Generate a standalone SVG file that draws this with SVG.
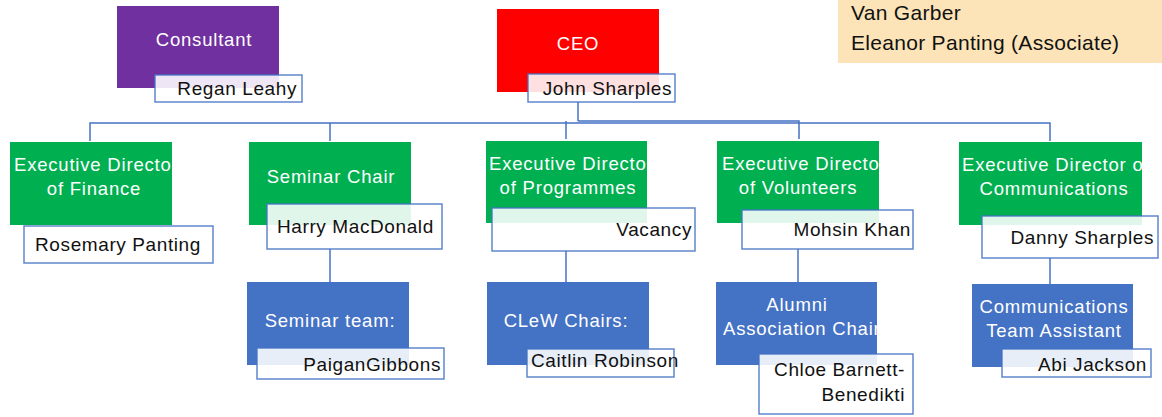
<svg xmlns="http://www.w3.org/2000/svg" width="1162" height="417" viewBox="0 0 1162 417">
<style>
.t{font-family:"Liberation Sans",Arial,sans-serif;font-size:18.5px;letter-spacing:0.8px;fill:#fff}
.n{font-family:"Liberation Sans",Arial,sans-serif;font-size:19px;letter-spacing:0.6px;fill:#111}
.v{font-family:"Liberation Sans",Arial,sans-serif;font-size:21px;letter-spacing:0.3px;fill:#111}
.nb{fill:#fff;fill-opacity:0.88;stroke:#4472C4;stroke-opacity:0.85;stroke-width:1.5}
.g{fill:#00B050}
.b{fill:#4472C4}
.c{fill:none;stroke:#4472C4;stroke-width:1.5}
</style>
<defs>
<clipPath id="cFin"><rect x="10" y="142" width="162" height="83"/></clipPath>
<clipPath id="cProg"><rect x="486" y="141" width="161" height="82"/></clipPath>
<clipPath id="cVol"><rect x="717" y="141" width="162" height="82"/></clipPath>
<clipPath id="cCom"><rect x="959" y="142" width="183" height="83"/></clipPath>
<clipPath id="cAlu"><rect x="716" y="282" width="161" height="83"/></clipPath>
<clipPath id="cCta"><rect x="972" y="284" width="161" height="83"/></clipPath>
</defs>
<g id="connectors">
<path class="c" d="M578 102V121"/>
<path class="c" d="M90 141V123H1050V141"/>
<path class="c" d="M578 121H799V139" stroke-width="2.2"/>
<path class="c" d="M330 123V141"/>
<path class="c" d="M566 121V139"/>
<path class="c" d="M330 249V282"/>
<path class="c" d="M566 251V282"/>
<path class="c" d="M798 249V282"/>
<path class="c" d="M1050 258V284"/>
</g>
<g id="associates">
<rect x="838" y="0" width="324" height="63" fill="#FCE4B8"/>
<text class="v" x="851" y="20">Van Garber</text>
<text class="v" x="851" y="50">Eleanor Panting (Associate)</text>
</g>
<g id="consultant">
<rect x="117" y="6" width="162" height="82" fill="#7030A0"/>
<text class="t" x="204" y="46" text-anchor="middle">Consultant</text>
<rect class="nb" x="155" y="75" width="147" height="27"/>
<text class="n" x="297" y="95" text-anchor="end">Regan Leahy</text>
</g>
<g id="ceo">
<rect x="497" y="9" width="162" height="83" fill="#FF0000"/>
<text class="t" x="578" y="50" text-anchor="middle">CEO</text>
<rect class="nb" x="528" y="74" width="147" height="28"/>
<text class="n" x="672" y="95" text-anchor="end">John Sharples</text>
</g>
<g id="finance">
<rect class="g" x="10" y="142" width="162" height="83"/>
<g clip-path="url(#cFin)">
<text class="t" x="14" y="171">Executive Director</text>
<text class="t" x="94" y="195" text-anchor="middle">of Finance</text>
</g>
<rect class="nb" x="24" y="226" width="189" height="37" style="fill-opacity:1"/>
<text class="n" x="118" y="251" text-anchor="middle">Rosemary Panting</text>
</g>
<g id="seminar-chair">
<rect class="g" x="249" y="142" width="162" height="83"/>
<text class="t" x="331" y="183" text-anchor="middle">Seminar Chair</text>
<rect class="nb" x="267" y="204" width="175" height="45"/>
<text class="n" x="277" y="233">Harry MacDonald</text>
</g>
<g id="programmes">
<rect class="g" x="486" y="141" width="161" height="82"/>
<g clip-path="url(#cProg)">
<text class="t" x="489" y="170">Executive Director</text>
<text class="t" x="568" y="194" text-anchor="middle">of Programmes</text>
</g>
<rect class="nb" x="492" y="208" width="203" height="43"/>
<text class="n" x="692" y="236" text-anchor="end">Vacancy</text>
</g>
<g id="volunteers">
<rect class="g" x="717" y="141" width="162" height="82"/>
<g clip-path="url(#cVol)">
<text class="t" x="722" y="170">Executive Director</text>
<text class="t" x="798" y="194" text-anchor="middle">of Volunteers</text>
</g>
<rect class="nb" x="742" y="210" width="171" height="39"/>
<text class="n" x="911" y="236" text-anchor="end">Mohsin Khan</text>
</g>
<g id="communications">
<rect class="g" x="959" y="142" width="183" height="83"/>
<g clip-path="url(#cCom)">
<text class="t" x="962" y="171">Executive Director of</text>
<text class="t" x="1054" y="195" text-anchor="middle">Communications</text>
</g>
<rect class="nb" x="982" y="216" width="176" height="42"/>
<text class="n" x="1154" y="244" text-anchor="end">Danny Sharples</text>
</g>
<g id="seminar-team">
<rect class="b" x="247" y="282" width="162" height="83"/>
<text class="t" x="330" y="327" text-anchor="middle">Seminar team:</text>
<rect class="nb" x="257" y="348" width="187" height="31"/>
<text class="n" x="441" y="371" text-anchor="end">PaiganGibbons</text>
</g>
<g id="clew-chairs">
<rect class="b" x="487" y="282" width="162" height="83"/>
<text class="t" x="566" y="327" text-anchor="middle">CLeW Chairs:</text>
<rect class="nb" x="527" y="349" width="147" height="28"/>
<text class="n" x="531" y="367">Caitlin Robinson</text>
</g>
<g id="alumni">
<rect class="b" x="716" y="282" width="161" height="83"/>
<g clip-path="url(#cAlu)">
<text class="t" x="797" y="311" text-anchor="middle">Alumni</text>
<text class="t" x="723" y="335">Association Chair</text>
</g>
<rect class="nb" x="759" y="354" width="154" height="60"/>
<text class="n" x="905" y="376" text-anchor="end">Chloe Barnett-</text>
<text class="n" x="905" y="401" text-anchor="end">Benedikti</text>
</g>
<g id="comms-assistant">
<rect class="b" x="972" y="284" width="161" height="83"/>
<g clip-path="url(#cCta)">
<text class="t" x="1054" y="313" text-anchor="middle">Communications</text>
<text class="t" x="1054" y="337" text-anchor="middle">Team Assistant</text>
</g>
<rect class="nb" x="1002" y="349" width="149" height="28"/>
<text class="n" x="1147" y="371" text-anchor="end">Abi Jackson</text>
</g>
</svg>
